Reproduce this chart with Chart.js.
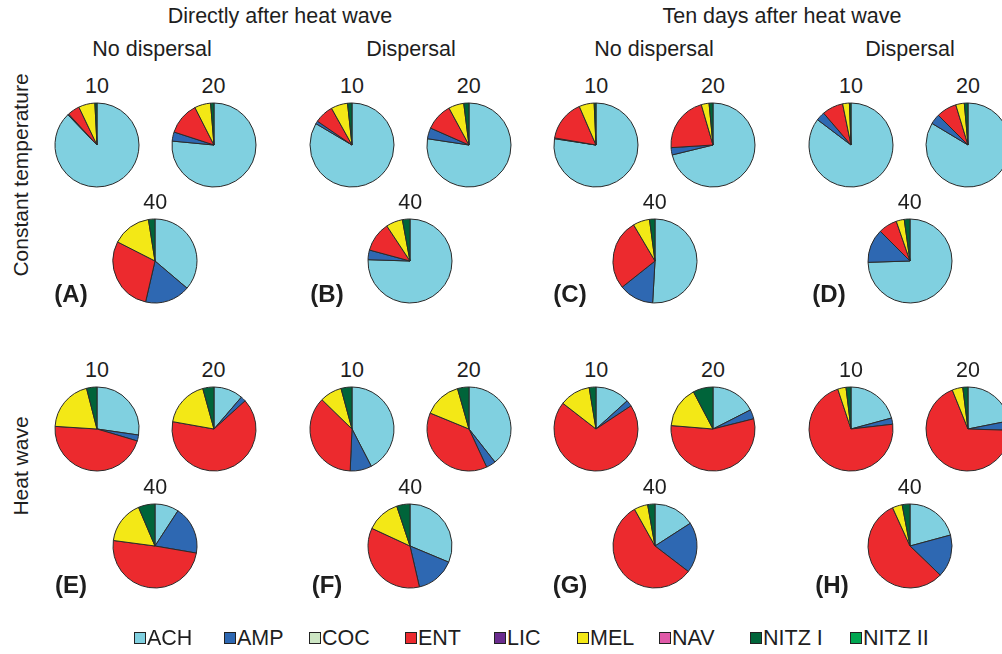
<!DOCTYPE html>
<html>
<head>
<meta charset="utf-8">
<script src="https://cdn.jsdelivr.net/npm/chart.js@4.4.1/dist/chart.umd.min.js"></script>
<style>
  html, body { margin: 0; padding: 0; background: #fff; }
  #wrap { position: relative; width: 1002px; height: 654px; overflow: hidden; background: #fff;
          font-family: "Liberation Sans", Arial, Helvetica, sans-serif; color: #1e1e1e; }
  .t { position: absolute; transform: translate(-50%, -50%); white-space: nowrap; line-height: 1; }
  .hdr { font-size: 21.5px; }
  .num { font-size: 21.5px; }
  .row { font-size: 21px; transform: translate(-50%, -50%) rotate(-90deg); }
  .pan { font-size: 24px; font-weight: bold; }
  canvas.pie { position: absolute; }
  .leg { position: absolute; top: 627px; height: 22px; display: flex; align-items: center; font-size: 21.5px; white-space: nowrap; }
  .leg span.box { display: inline-block; width: 10px; height: 10px; border: 1.5px solid #222; margin-right: 1px; }
</style>
</head>
<body>
<div id="wrap"></div>
<script>
// Categories (slice order, clockwise from 12 o'clock)
const categories = ['ACH', 'AMP', 'COC', 'ENT', 'LIC', 'MEL', 'NAV', 'NITZ I', 'NITZ II'];
const colors = ['#80d0e0', '#2e68b2', '#cde6c4', '#ec2a2e', '#6a2c8e', '#f3e816', '#e05aa8', '#00643a', '#00a651'];

// Relative abundance (%) per pie: [ACH, AMP, COC, ENT, LIC, MEL, NAV, NITZ I, NITZ II]
// Constant temperature
const A10 = [87.8, 0.4, 0, 4.7, 0, 6.3, 0, 0.8, 0];
const A20 = [76.5, 3.5, 0, 12.5, 0, 6.2, 0, 1.3, 0];
const A40 = [36.2, 17.4, 0, 28.9, 0, 15.0, 0, 2.5, 0];
const B10 = [83.5, 1.1, 0, 7.3, 0, 6.4, 0, 1.7, 0];
const B20 = [77.4, 4.2, 0, 10.5, 0, 5.9, 0, 2.0, 0];
const B40 = [75.5, 3.7, 0, 11.5, 0, 6.4, 0, 2.9, 0];
const C10 = [77.4, 0.3, 0, 15.8, 0, 5.8, 0, 0.7, 0];
const C20 = [71.2, 2.8, 0, 21.5, 0, 3.0, 0, 1.5, 0];
const C40 = [50.9, 13.4, 0, 27.2, 0, 6.4, 0, 2.1, 0];
const D10 = [85.3, 3.4, 0, 8.1, 0, 2.6, 0, 0.6, 0];
const D20 = [83.6, 3.9, 0, 7.8, 0, 3.3, 0, 1.4, 0];
const D40 = [74.5, 13.0, 0, 7.2, 0, 3.1, 0, 2.2, 0];
// Heat wave
const E10 = [27.3, 2.3, 0, 46.4, 0, 20.0, 0, 4.0, 0];
const E20 = [11.3, 2.0, 0, 64.5, 0, 17.9, 0, 4.3, 0];
const E40 = [9.2, 18.5, 0, 49.4, 0, 16.5, 0, 6.4, 0];
const F10 = [42.4, 8.3, 0, 36.6, 0, 8.5, 0, 4.2, 0];
const F20 = [39.4, 3.7, 0, 38.1, 0, 14.4, 0, 4.4, 0];
const F40 = [31.3, 15.1, 0, 35.5, 0, 13.0, 0, 5.1, 0];
const G10 = [13.3, 2.4, 0, 69.8, 0, 11.9, 0, 2.6, 0];
const G20 = [17.5, 3.6, 0, 55.2, 0, 16.0, 0, 7.7, 0];
const G40 = [15.9, 19.5, 0, 56.5, 0, 5.3, 0, 2.8, 0];
const H10 = [20.8, 2.4, 0, 71.7, 0, 3.2, 0, 1.9, 0];
const H20 = [21.9, 3.6, 0, 68.4, 0, 4.1, 0, 2.0, 0];
const H40 = [20.8, 16.4, 0, 56.0, 0, 3.8, 0, 3.0, 0];

const densities = ['10', '20', '40'];
const panelLetters = ['(A)', '(B)', '(C)', '(D)', '(E)', '(F)', '(G)', '(H)'];
const panelData = [[A10, A20, A40], [B10, B20, B40], [C10, C20, C40], [D10, D20, D40],
                   [E10, E20, E40], [F10, F20, F40], [G10, G20, G40], [H10, H20, H40]];

// Layout (pixels)
const wrap = document.getElementById('wrap');
const colX = [[97, 213.5, 155.3], [352, 468.7, 410.2], [596.2, 713, 654.7], [851, 968, 909.8]];
const rowY = [[145, 145, 260.5], [429, 429, 545.5]];
const letterPos = [[71, 294], [327, 294], [570, 294], [829, 294], [71, 585], [327, 585], [570, 585], [832, 585]];
const R = 42;

function addText(cls, txt, x, y) {
  const d = document.createElement('div');
  d.className = 't ' + cls;
  d.textContent = txt;
  d.style.left = x + 'px';
  d.style.top = y + 'px';
  wrap.appendChild(d);
}

addText('hdr', 'Directly after heat wave', 280, 17);
addText('hdr', 'Ten days after heat wave', 782, 17);
addText('hdr', 'No dispersal', 152, 50);
addText('hdr', 'Dispersal', 411, 50);
addText('hdr', 'No dispersal', 654, 50);
addText('hdr', 'Dispersal', 910, 50);
addText('row', 'Constant temperature', 20, 175);
addText('row', 'Heat wave', 20, 466);

panelData.forEach((pies, p) => {
  const col = p % 4, row = Math.floor(p / 4);
  pies.forEach((vals, k) => {
    const cx = colX[col][k], cy = rowY[row][k];
    addText('num', densities[k], cx, cy - 58);
    const c = document.createElement('canvas');
    c.className = 'pie';
    c.width = 100; c.height = 100;
    c.style.width = '100px'; c.style.height = '100px';
    c.style.left = (cx - 50) + 'px';
    c.style.top = (cy - 50) + 'px';
    wrap.appendChild(c);
    new Chart(c, {
      type: 'pie',
      data: {
        labels: categories,
        datasets: [{ data: vals, backgroundColor: colors, borderColor: '#2a2a2a', borderWidth: 1 }]
      },
      options: {
        responsive: false, animation: false, devicePixelRatio: 1, radius: R,
        events: [],
        layout: { padding: 0 },
        plugins: { legend: { display: false }, tooltip: { enabled: false }, title: { display: false } }
      }
    });
  });
  addText('pan', panelLetters[p], letterPos[p][0], letterPos[p][1]);
});

// Legend
const legendX = [134, 224, 309, 405, 494, 577, 659, 750, 850];
categories.forEach((name, i) => {
  const d = document.createElement('div');
  d.className = 'leg';
  d.style.left = legendX[i] + 'px';
  const b = document.createElement('span');
  b.className = 'box';
  b.style.background = colors[i];
  d.appendChild(b);
  d.appendChild(document.createTextNode(name));
  wrap.appendChild(d);
});
</script>
</body>
</html>
